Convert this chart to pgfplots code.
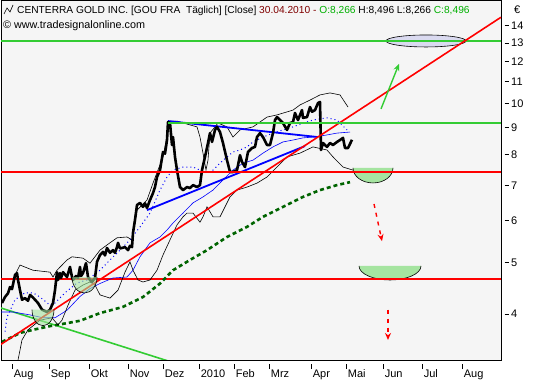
\documentclass[border=0pt]{standalone}
\usepackage{fontspec}
\setmainfont{Liberation Sans}
\usepackage{pgfplots}
\pgfplotsset{compat=1.18}
\usetikzlibrary{arrows.meta}
\definecolor{bg}{RGB}{245,245,245}
\definecolor{lgreen}{RGB}{51,204,51}
\definecolor{dgreen}{RGB}{0,100,0}
\definecolor{bowl}{RGB}{165,228,160}
\definecolor{lav}{RGB}{218,218,240}
\definecolor{hdrred}{RGB}{128,0,0}
\definecolor{hdrgreen}{RGB}{0,176,0}
\newcommand{\xt}[1]{\rule[8pt]{0.7pt}{5pt}\hspace{1.3pt}#1}
\newcommand{\yt}[1]{\rule[3.6pt]{4pt}{0.7pt}\hspace{2.5pt}#1}
\begin{document}
\begin{tikzpicture}
\useasboundingbox (0,0) rectangle (533pt,380pt);
\fill[white] (0,0) rectangle (533pt,380pt);
\begin{axis}[
  at={(1pt,20pt)}, anchor=south west,
  scale only axis, width=500pt, height=359.5pt,
  xmin=1, xmax=501, ymode=log, ymin=3.2626, ymax=15.574,
  axis background/.style={fill=bg},
  axis line style={black, line width=0.8pt},
  ytick={4,5,6,7,8,9,10,11,12,13,14},
  yticklabels={\yt{4},\yt{5},\yt{6},\yt{7},\yt{8},\yt{9},\yt{10},\yt{11},\yt{12},\yt{13},\yt{14}},
  ytick pos=right, yticklabel pos=right,
  major tick length=0pt, minor tick num=0,
  yticklabel style={anchor=west, inner sep=0pt, xshift=3.5pt, yshift=-1pt, font=\fontsize{11}{11}\selectfont},
  xtick={12,49,89,128,163,199,234,269,311,346,383,422,462},
  xticklabels={\xt{Aug},\xt{Sep},\xt{Okt},\xt{Nov},\xt{Dez},\xt{2010},\xt{Feb},\xt{Mrz},\xt{Apr},\xt{Mai},\xt{Jun},\xt{Jul},\xt{Aug}},
  xtick pos=bottom,
  xticklabel style={anchor=north west, inner sep=0pt, yshift=-4pt, xshift=-0.35pt, font=\fontsize{11}{11}\selectfont},
  clip=true,
]
% annotation shapes underneath
\filldraw[fill=lav, draw=black, line width=0.6pt] (axis cs:426,13.06) ellipse [x radius=40pt, y radius=6pt];
\filldraw[fill=bowl, draw=black, line width=0.6pt] (axis cs:353,7.52) arc[start angle=180,end angle=360,x radius=20pt,y radius=15pt];
\filldraw[fill=bowl, draw=black, line width=0.6pt] (axis cs:359,4.91) arc[start angle=180,end angle=360,x radius=31pt,y radius=14pt];
% horizontal lines
\addplot[draw=lgreen, line width=1.6pt, mark=none] coordinates {(1,13.06) (501,13.06)};
\addplot[draw=red, line width=1.6pt, mark=none] coordinates {(1,4.64) (501,4.64)};
% green falling line
\addplot[draw=lgreen, line width=1.6pt, mark=none] coordinates {(1,4.09) (170,3.24)};
% 200 MA dashed
\addplot[draw=dgreen, line width=2.6pt, mark=none, dash pattern=on 4pt off 3pt] coordinates {
(2,3.53) (10,3.59) (20,3.67) (33,3.72) (50,3.78) (67,3.83) (80,3.87) (100,4.00) (123,4.11) (143,4.29) (160,4.55) (173,4.82) (190,5.04) (207,5.26) (227,5.57) (247,5.82) (263,6.08) (283,6.35) (303,6.63) (320,6.83) (337,6.98) (350,7.07)};
% thin blue MA
\addplot[draw=blue, line width=0.6pt, mark=none] coordinates {
(1,4.02) (13,4.02) (30,3.97) (43,3.92) (55,3.92) (67,4.05) (80,4.30) (90,4.45) (100,4.55) (113,4.66) (127,4.68) (133,4.82) (140,5.11) (150,5.43) (160,5.57) (167,5.74) (173,5.92) (183,6.18) (193,6.46) (203,6.63) (213,6.83) (223,7.14) (233,7.45) (243,7.68) (253,7.78) (263,8.02) (273,8.24) (283,8.42) (293,8.49) (303,8.57) (313,8.60) (327,8.68) (337,8.75) (350,8.79)};
% dotted blue MA
\addplot[draw=blue, line width=1pt, mark=none, dash pattern=on 1pt off 3pt] coordinates {
(5,3.69) (7,3.93) (15,4.24) (25,4.37) (33,4.37) (40,4.29) (50,4.14) (55,4.18) (65,4.37) (77,4.56) (87,4.62) (100,4.82) (110,5.04) (120,5.26) (130,5.50) (140,5.82) (150,6.18) (160,6.83) (167,7.23) (173,7.45) (183,7.55) (193,7.55) (200,7.45) (207,7.36) (213,7.45) (220,7.68) (227,7.89) (233,8.06) (240,8.13) (247,8.24) (253,8.42) (263,8.60) (273,8.75) (283,8.87) (293,8.99) (303,9.14) (313,9.26) (327,9.35) (337,9.26) (347,8.87)};
% upper band
\addplot[draw=black, line width=0.6pt, mark=none] coordinates {
(15,4.72) (20,4.93) (33,4.82) (50,4.78) (53,4.68) (57,4.82) (67,5.04) (72,5.11) (83,5.08) (90,4.97) (100,5.26) (107,5.38) (117,5.55) (127,5.57) (132,5.50) (137,6.26) (147,6.54) (153,7.04) (163,7.89) (170,9.22) (177,9.22) (187,9.10) (197,8.99) (200,8.60) (203,8.02) (206,7.45) (208,7.78) (210,8.75) (218,9.14) (227,8.99) (233,8.60) (240,8.87) (253,8.99) (267,9.38) (277,9.47) (293,9.67) (300,9.89) (310,10.10) (320,10.33) (330,10.42) (340,10.33) (348,9.80)};
% lower band
\addplot[draw=black, line width=0.6pt, mark=none] coordinates {
(18,3.26) (22,3.56) (28,3.72) (40,3.88) (52,3.92) (58,3.80) (62,3.88) (68,4.14) (75,4.42) (83,4.52) (90,4.58) (95,4.52) (100,4.33) (110,4.27) (118,4.42) (125,4.78) (130,5.00) (133,4.82) (138,4.62) (143,4.58) (150,4.62) (157,4.82) (163,5.15) (170,5.50) (177,5.87) (183,6.08) (187,6.18) (193,6.18) (200,5.94) (203,6.08) (207,6.35) (213,6.08) (220,6.08) (230,6.63) (237,6.83) (247,6.92) (257,7.04) (267,7.23) (277,7.55) (287,7.89) (300,8.02) (313,8.24) (327,8.13) (333,7.89) (343,7.55) (353,7.45)};
% thick blue trend lines
\addplot[draw=blue, line width=1.8pt, mark=none] coordinates {(168,9.22) (318,8.60)};
\addplot[draw=blue, line width=1.8pt, mark=none] coordinates {(147,6.26) (305,8.27)};
% price
\addplot[draw=black, line width=2.6pt, mark=none, line join=round] coordinates {
(2,4.18) (5,4.29) (8,4.36) (10,4.48) (12,4.44) (15,4.72) (17,4.76) (18,4.62) (20,4.42) (22,4.24) (25,4.27) (28,4.22) (30,4.33) (33,4.28) (35,4.24) (38,4.18) (42,4.06) (47,4.02) (50,4.06) (53,4.18) (55,4.42) (57,4.78) (58,4.62) (60,4.76) (61,4.66) (63,4.78) (67,4.68) (70,4.89) (72,4.68) (73,4.62) (76,4.70) (78,4.66) (80,4.89) (81,4.70) (83,4.76) (86,4.97) (88,4.68) (90,4.62) (92,4.58) (95,4.66) (97,5.00) (100,5.15) (103,5.22) (105,5.14) (107,5.31) (110,5.20) (113,5.26) (115,5.20) (117,5.33) (118,5.43) (120,5.30) (122,5.31) (125,5.33) (128,5.26) (130,5.36) (132,5.33) (133,5.67) (135,6.00) (137,6.40) (140,6.46) (143,6.35) (145,6.45) (147,6.32) (150,6.54) (153,6.74) (155,6.92) (157,7.23) (160,7.45) (163,8.06) (165,8.00) (167,8.49) (168,9.18) (170,9.14) (172,8.31) (173,8.60) (175,7.89) (177,7.45) (180,6.92) (183,6.83) (187,6.92) (190,6.89) (193,6.98) (197,6.92) (200,6.98) (202,7.45) (205,7.89) (208,8.38) (210,8.75) (212,8.42) (215,8.87) (217,8.99) (220,8.79) (223,8.38) (227,7.78) (230,7.39) (233,7.39) (237,7.45) (240,7.95) (242,7.72) (245,7.55) (248,8.06) (252,8.20) (255,8.24) (257,8.60) (260,8.75) (263,8.60) (267,8.31) (270,8.31) (273,8.75) (275,9.26) (277,9.38) (280,9.26) (283,9.14) (287,8.87) (290,9.14) (293,9.18) (295,9.55) (298,9.26) (302,9.67) (303,9.35) (307,9.38) (310,9.80) (312,9.60) (315,9.67) (318,9.97) (320,10.02) (321,8.13) (323,8.38) (327,8.24) (330,8.38) (333,8.31) (337,8.42) (340,8.49) (343,8.57) (345,8.20) (348,8.20) (352,8.50)};
% red rising trend line
\addplot[draw=red, line width=1.6pt, mark=none] coordinates {(0,3.483) (501,14.48)};
% left bowls (translucent)
\filldraw[fill=bowl, fill opacity=0.6, draw=black, line width=0.6pt] (axis cs:32,4.06) arc[start angle=180,end angle=360,x radius=11pt,y radius=16pt];
\filldraw[fill=bowl, fill opacity=0.6, draw=black, line width=0.6pt] (axis cs:72,4.68) arc[start angle=180,end angle=360,x radius=12.5pt,y radius=16pt];
% arrows
\draw[lgreen, line width=1.4pt, -{Stealth[length=7pt,width=6pt]}] (axis cs:381,9.72) -- (axis cs:399,11.82);
\draw[red, line width=1.4pt, dash pattern=on 4pt off 5pt, -{Stealth[length=7pt,width=6pt]}] (axis cs:374,6.43) -- (axis cs:382,5.47);
\draw[red, line width=1.4pt, dash pattern=on 4pt off 5pt, -{Stealth[length=7pt,width=6pt]}] (axis cs:388,4.06) -- (axis cs:388,3.56);
% lines at 9.13 and 7.40 drawn last
\addplot[draw=lgreen, line width=1.8pt, mark=none] coordinates {(168,9.13) (501,9.13)};
\addplot[draw=red, line width=1.8pt, mark=none] coordinates {(1,7.40) (501,7.40)};
\end{axis}
% header
\draw[black, line width=0.6pt] (4pt,366pt) -- (7pt,372pt) -- (10pt,368pt) -- (13pt,375pt);
\node[anchor=base west, inner sep=0pt, font=\fontsize{10.2}{13}\selectfont] at (17pt,366.5pt) {CENTERRA GOLD INC. [GOU FRA\ \ Täglich] [Close] \textcolor{hdrred}{30.04.2010 -} \textcolor{hdrgreen}{O:8,266} H:8,496 L:8,266 \textcolor{hdrgreen}{C:8,496}};
\node[anchor=base west, inner sep=0pt, font=\fontsize{10.8}{13}\selectfont] at (3pt,351pt) {© www.tradesignalonline.com};
\node[anchor=base west, inner sep=0pt, font=\fontsize{11}{13}\selectfont] at (514pt,366pt) {€};
\end{tikzpicture}
\end{document}
